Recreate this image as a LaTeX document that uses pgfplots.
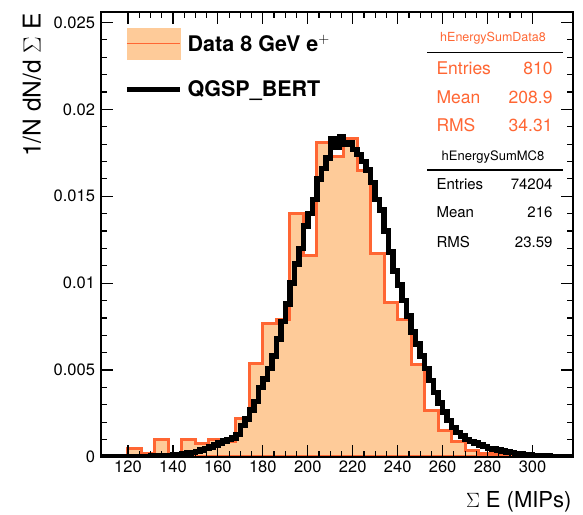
\documentclass[border=0pt]{standalone}
\usepackage{fontspec}
\setmainfont{TeX Gyre Heros}
\usepackage{pgfplots}
\usepackage{pgfplotstable}
\pgfplotsset{compat=1.18}
\definecolor{dataLine}{RGB}{255,102,51}
\definecolor{dataFill}{RGB}{254,203,153}

\pgfplotstableread{
x y
108 0
114 0
120 0.0005
126 0.0002
132 0.0010
138 0.0002
144 0.0010
150 0.0008
156 0.0010
162 0.0009
168 0.0022
174 0.0054
180 0.0077
186 0.0079
192 0.0140
198 0.0116
204 0.0181
210 0.0173
216 0.0183
222 0.0165
228 0.0117
234 0.0089
240 0.0079
246 0.0053
252 0.0027
258 0.0015
264 0.0009
270 0.0004
276 0.0002
282 0.0002
288 0
294 0.0002
300 0
306 0
312 0
318 0
}\datatab

\pgfplotstableread{
x y
108 0
110 0
112 0
114 0
116 0
118 0
120 0.00002
122 0.00002
124 0.00003
126 0.00003
128 0.00004
130 0.00005
132 0.00006
134 0.00007
136 0.00008
138 0.00010
140 0.00012
142 0.00015
144 0.00018
146 0.00022
148 0.00027
150 0.00033
152 0.00040
154 0.00050
156 0.00058
158 0.00068
160 0.00080
162 0.00092
164 0.00100
166 0.00110
168 0.00130
170 0.00180
172 0.00220
174 0.00270
176 0.00320
178 0.00400
180 0.00450
182 0.00510
184 0.00580
186 0.00680
188 0.00780
190 0.00880
192 0.01000
194 0.01110
196 0.01200
198 0.01330
200 0.01400
202 0.01480
204 0.01600
206 0.01660
208 0.01720
210 0.01830
212 0.01780
214 0.01840
216 0.01800
218 0.01810
220 0.01770
222 0.01740
224 0.01700
226 0.01650
228 0.01580
230 0.01480
232 0.01420
234 0.01300
236 0.01180
238 0.01070
240 0.00990
242 0.00900
244 0.00810
246 0.00720
248 0.00650
250 0.00580
252 0.00510
254 0.00440
256 0.00370
258 0.00310
260 0.00260
262 0.00210
264 0.00170
266 0.00140
268 0.00120
270 0.00100
272 0.00090
274 0.00080
276 0.00070
278 0.00060
280 0.00050
282 0.00045
284 0.00040
286 0.00035
288 0.00030
290 0.00025
292 0.00020
294 0.00018
296 0.00015
298 0.00012
300 0.00010
302 0.00008
304 0.00006
306 0.00005
308 0.00004
310 0.00003
312 0.00002
314 0.00002
316 0.00001
318 0.00001
}\mctab

\begin{document}
\begin{tikzpicture}
\useasboundingbox (0,0) rectangle (583bp,515bp);
\begin{axis}[
  at={(101bp,58bp)}, anchor=south west,
  scale only axis, width=472bp, height=445bp,
  xmin=108, xmax=318, ymin=0, ymax=0.0256,
  axis on top,
  axis line style={line width=2.5bp},
  tick align=inside,
  major tick length=12bp, minor tick length=6bp,
  every tick/.style={black, line width=1.2bp},
  xtick={120,140,160,180,200,220,240,260,280,300},
  minor x tick num=3,
  ytick={0,0.005,0.01,0.015,0.02,0.025},
  yticklabels={0,0.005,0.01,0.015,0.02,0.025},
  minor y tick num=4,
  scaled y ticks=false,
  /pgf/number format/assume math mode=true,
  ticklabel style={font=\fontsize{16.5bp}{19bp}\selectfont},
  yticklabel style={xshift=-2.5bp},
  legend style={at={(0.0487,0.964)}, anchor=north west, draw=none, fill=none,
    inner sep=0pt, row sep=19bp,
    font=\bfseries\fontsize{21.5bp}{24bp}\selectfont,
    nodes={inner sep=2bp},
    /tikz/every odd column/.append style={column sep=3bp}},
  legend cell align=left,
]
\addplot[const plot, fill=dataFill, draw=dataLine, line width=3bp, forget plot] table[x=x,y=y] {\datatab} \closedcycle;
\addplot[const plot, draw=black, line width=5.5bp, forget plot] table[x=x,y=y] {\mctab};
\addlegendimage{legend image code/.code={
  \fill[dataFill] (0bp,-15.5bp) rectangle (53bp,15.5bp);
  \draw[dataLine, line width=1bp] (0bp,0bp) -- (53bp,0bp);}}
\addlegendentry{Data 8 GeV e$^{\mathbf{+}}$}
\addlegendimage{legend image code/.code={
  \draw[black, line width=5.5bp] (0bp,0bp) -- (53bp,0bp);}}
\addlegendentry{QGSP\_BERT}
\end{axis}
% y and x axis titles
\node[rotate=90, anchor=mid east, font=\fontsize{24.5bp}{28bp}\selectfont] at (38bp,505bp) {1/N dN/d $\Sigma$ E};
\node[anchor=mid east, font=\fontsize{22bp}{26bp}\selectfont] at (575bp,10bp) {$\Sigma$ E (MIPs)};
% stats box: data
\node[text=dataLine, font=\fontsize{12.5bp}{15bp}\selectfont] at (493bp,477bp) {hEnergySumData8};
\draw[line width=1.2bp] (427bp,462.3bp) -- (563bp,462.3bp);
\begin{scope}[every node/.style={text=dataLine, font=\fontsize{17.5bp}{20bp}\selectfont}]
\node[anchor=mid west] at (433bp,443.5bp) {Entries};
\node[anchor=mid east] at (556bp,443.5bp) {810};
\node[anchor=mid west] at (433bp,414bp) {Mean};
\node[anchor=mid east] at (556bp,414bp) {208.9};
\node[anchor=mid west] at (433bp,386bp) {RMS};
\node[anchor=mid east] at (556bp,386bp) {34.31};
\end{scope}
% stats box: MC
\node[font=\fontsize{13bp}{15bp}\selectfont] at (493bp,358bp) {hEnergySumMC8};
\draw[line width=1.2bp] (427bp,345bp) -- (563bp,345bp);
\begin{scope}[every node/.style={font=\fontsize{15bp}{17bp}\selectfont}]
\node[anchor=mid west] at (433bp,328bp) {Entries};
\node[anchor=mid east] at (556bp,328bp) {74204};
\node[anchor=mid west] at (433bp,300bp) {Mean};
\node[anchor=mid east] at (556bp,300bp) {216};
\node[anchor=mid west] at (433bp,270bp) {RMS};
\node[anchor=mid east] at (556bp,270bp) {23.59};
\end{scope}
\end{tikzpicture}
\end{document}
